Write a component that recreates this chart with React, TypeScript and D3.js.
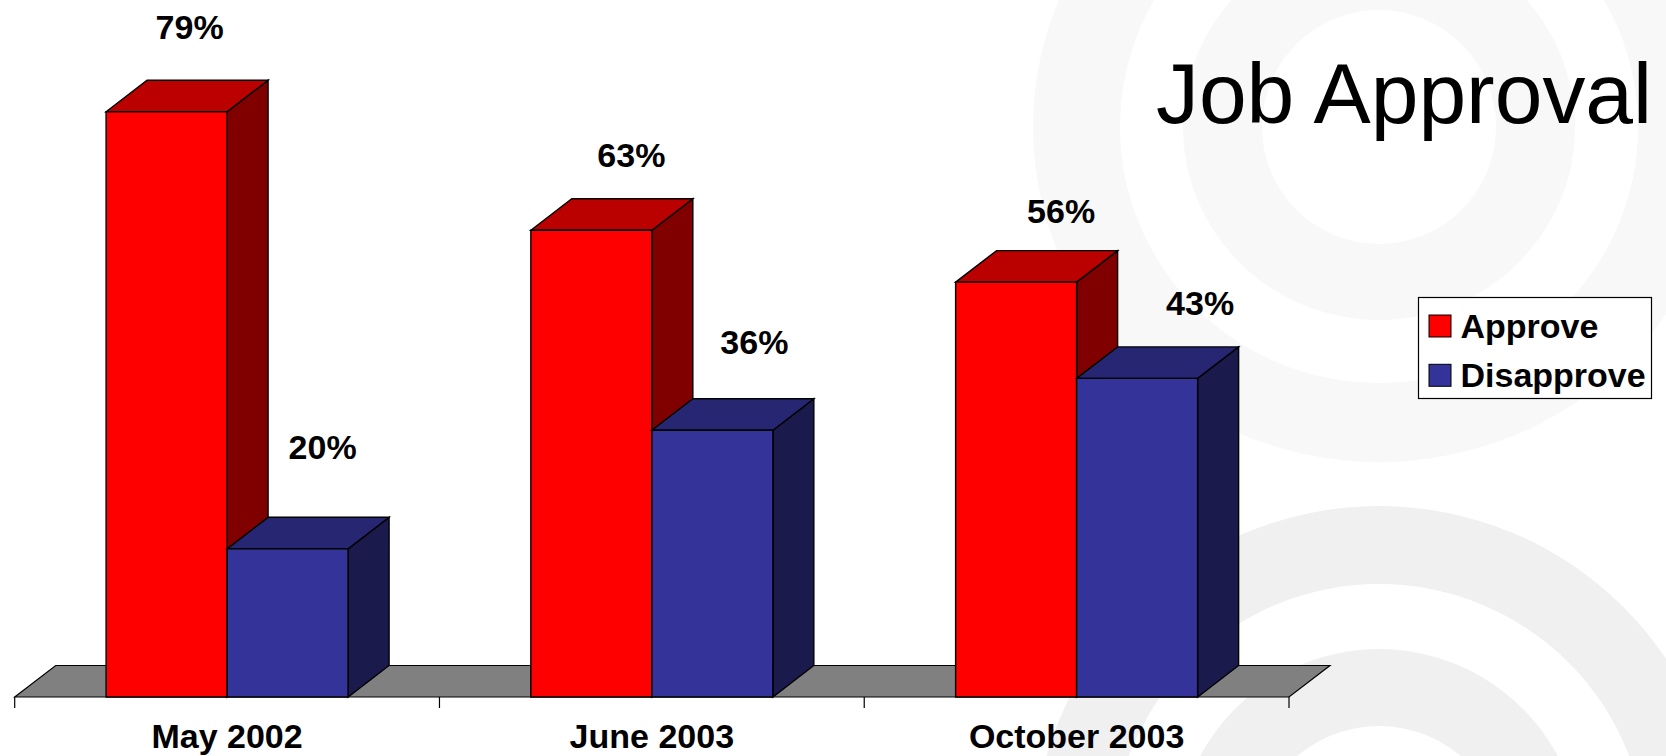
import React from "react";
import { scaleBand, scaleLinear, line } from "d3";

const categories = ["May 2002", "June 2003", "October 2003"];
const seriesNames = ["Approve", "Disapprove"];
const approveValues = [79, 63, 56];
const disapproveValues = [20, 36, 43];

// layout
const width = 1666;
const height = 756;
const baseY = 697;
const depthX = 41;
const depthY = 31.5;
const barWidth = 121;
const labelSize = 34;
const font = "'Liberation Sans', Arial, sans-serif";

const palette = {
  Approve: { front: "#ff0000", top: "#bb0000", side: "#800000" },
  Disapprove: { front: "#333399", top: "#262673", side: "#1a1a4d" },
};

// the value labels sit by hand in the original slide: [dx from bar centre, baseline above bar top]
const approveLabelShift = [[23, 73], [40, 63], [45, 59]];
const disapproveLabelShift = [[35, 90], [42, 76], [63, 63]];

const upperRingsX = [346, 259, 196, 117];
const upperRingsY = [335, 256, 193, 117];
const lowerRings = [346, 268, 203, 126];

const xScale = scaleBand().domain(categories).range([14.7, 1289]);
const band = xScale.bandwidth();
const seriesScale = scaleBand()
  .domain(seriesNames)
  .range([band / 2 - barWidth, band / 2 + barWidth]);
const yScale = scaleLinear().domain([0, 79]).range([baseY, 111.7]);

const poly = line().x((p) => p[0]).y((p) => p[1]);
const closed = (pts) => poly(pts) + "Z";

const Bar = ({ x, y, colors }) => {
  const r = x + barWidth;
  return (
    <g stroke="#000" strokeWidth={1.4} strokeLinejoin="miter">
      <path d={closed([[r, y], [r + depthX, y - depthY], [r + depthX, baseY - depthY], [r, baseY]])} fill={colors.side} />
      <path d={closed([[x, y], [x + depthX, y - depthY], [r + depthX, y - depthY], [r, y]])} fill={colors.top} />
      <path d={closed([[x, y], [r, y], [r, baseY], [x, baseY]])} fill={colors.front} />
    </g>
  );
};

const App = () => {
  const x0 = xScale.range()[0];
  const x1 = xScale.range()[1];
  const tickXs = [...categories.map((c) => xScale(c)), x1];
  const seriesValues = [approveValues, disapproveValues];
  const shifts = [approveLabelShift, disapproveLabelShift];

  return (
    <svg
      width={width}
      height={height}
      style={{ position: "absolute", left: 0, top: 0, background: "#fff" }}
      fontFamily={font}
    >
      {/* slide background swirls */}
      {upperRingsX.map((r, i) => (
        <ellipse key={r} cx={1379} cy={127} rx={r} ry={upperRingsY[i]} fill={i % 2 === 0 ? "#f8f8f8" : "#fff"} />
      ))}
      {lowerRings.map((r, i) => (
        <circle key={r} cx={1379} cy={852} r={r} fill={i % 2 === 0 ? "#f0f0f0" : "#fff"} />
      ))}

      <text x={1156} y={123} fontSize={85.8} fill="#000">Job Approval</text>

      {/* floor */}
      <path
        d={closed([[x0, baseY], [x0 + depthX, baseY - depthY], [x1 + depthX, baseY - depthY], [x1, baseY]])}
        fill="#808080"
        stroke="#000"
        strokeWidth={1.2}
      />
      <g stroke="#000" strokeWidth={1.2}>
        {tickXs.map((t) => (
          <line key={t} x1={t} x2={t} y1={baseY} y2={baseY + 11} />
        ))}
      </g>

      {categories.map((cat, c) => (
        <g key={cat}>
          {seriesNames.map((name, s) => (
            <Bar
              key={name}
              x={xScale(cat) + seriesScale(name)}
              y={yScale(seriesValues[s][c])}
              colors={palette[name]}
            />
          ))}
          <text
            x={xScale(cat) + band / 2}
            y={748}
            textAnchor="middle"
            fontSize={labelSize}
            fontWeight="bold"
          >
            {cat}
          </text>
        </g>
      ))}

      {categories.map((cat, c) =>
        seriesNames.map((name, s) => (
          <text
            key={name}
            x={xScale(cat) + seriesScale(name) + barWidth / 2 + shifts[s][c][0]}
            y={yScale(seriesValues[s][c]) - shifts[s][c][1]}
            textAnchor="middle"
            fontSize={labelSize}
            fontWeight="bold"
          >
            {seriesValues[s][c]}%
          </text>
        ))
      )}

      {/* legend */}
      <rect x={1418.5} y={297.5} width={233} height={101} fill="#fff" stroke="#000" strokeWidth={1.2} />
      {seriesNames.map((name, s) => (
        <g key={name}>
          <rect x={1429} y={315 + s * 49.3} width={22} height={22} fill={palette[name].front} stroke="#000" strokeWidth={1} />
          <text x={1460.5} y={338 + s * 49.3} fontSize={labelSize} fontWeight="bold">{name}</text>
        </g>
      ))}
    </svg>
  );
};

export default App;
